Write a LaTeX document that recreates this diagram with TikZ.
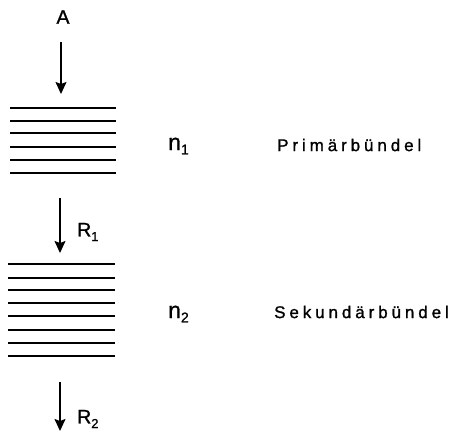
\documentclass[tikz,border=0pt]{standalone}
\usepackage{fontspec}
\setmainfont[FakeBold=1.2]{Liberation Sans}
\newfontfamily\spaced[LetterSpace=23,FakeBold=1.2]{Liberation Sans}
\usetikzlibrary{arrows.meta}
\begin{document}
\begin{tikzpicture}[x=1pt,y=-1pt,
  layer/.style={line width=1.8pt},
  flow/.style={line width=1.4pt,-{Stealth[length=12pt,width=11pt,inset=2pt]}},
  lbl/.style={inner sep=0pt,font=\fontsize{19.5}{21}\selectfont},
  idx/.style={inner sep=0pt,font=\fontsize{23}{25}\selectfont},
  bundlename/.style={inner sep=0pt,anchor=west,font=\spaced\fontsize{17}{19}\selectfont}]
\useasboundingbox (0,0) rectangle (452,432);
% primary bundle
\foreach \y in {108,121,133,147,160,173}
  \draw[layer] (10,\y) -- (116,\y);
% secondary bundle
\foreach \y in {264,278,290,303,316,330,343,356}
  \draw[layer] (8,\y) -- (115,\y);
\node[lbl] (A) at (63,17) {A};
\coordinate (a1) at (61,42);
\coordinate (a2) at (61,94);
\draw[flow] (a1) -- (a2);
\coordinate (r1a) at (60,198);
\coordinate (r1b) at (60,253);
\draw[flow] (r1a) -- (r1b);
\node[lbl,anchor=west] (R1) at (77,232) {R\raisebox{-0.45ex}{\fontsize{13}{14}\selectfont 1}};
\coordinate (r2a) at (60,382);
\coordinate (r2b) at (60,431);
\draw[flow] (r2a) -- (r2b);
\node[lbl,anchor=west] (R2) at (77,419) {R\raisebox{-0.45ex}{\fontsize{13}{14}\selectfont 2}};
\node[idx,anchor=west] (n1) at (168,146) {n\raisebox{-0.35ex}{\fontsize{14}{15}\selectfont 1}};
\node[idx,anchor=west] (n2) at (168,314) {n\raisebox{-0.35ex}{\fontsize{14}{15}\selectfont 2}};
\node[bundlename] (p) at (277,145) {Primärbündel};
\node[bundlename] (s) at (274,312) {Sekundärbündel};
\end{tikzpicture}
\end{document}
